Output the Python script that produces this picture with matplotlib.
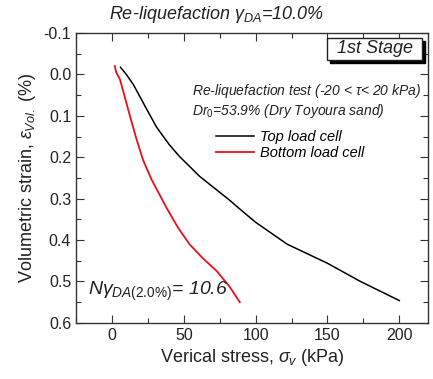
import numpy as np
import matplotlib.pyplot as plt
from matplotlib.ticker import MultipleLocator

plt.rcParams['font.family'] = ['Liberation Sans', 'DejaVu Sans']
plt.rcParams['mathtext.fontset'] = 'custom'
plt.rcParams['mathtext.it'] = 'Liberation Sans:italic'
plt.rcParams['mathtext.rm'] = 'Liberation Sans'

# Top load cell (black)
top_stress = [6, 10, 15, 22, 31, 40, 47, 61, 82, 89, 100, 122, 150, 173, 200]
top_strain = [-0.017, 0.0, 0.025, 0.07, 0.127, 0.17, 0.198, 0.246, 0.304,
              0.325, 0.357, 0.41, 0.456, 0.50, 0.546]

# Bottom load cell (red)
bot_stress = [2, 3, 5.6, 9, 12.5, 17, 21.6, 27.6, 38, 46, 54, 63, 73, 82, 89]
bot_strain = [-0.02, -0.005, 0.012, 0.055, 0.10, 0.155, 0.206, 0.254, 0.322,
              0.37, 0.41, 0.443, 0.475, 0.513, 0.55]

fig = plt.figure(figsize=(4.33, 3.79), dpi=100)
ax = fig.add_axes([0.1755, 0.148, 0.813, 0.765])

ax.plot(top_stress, top_strain, color='black', lw=1.1, label='Top load cell')
ax.plot(bot_stress, bot_strain, color='#e8101a', lw=1.3, label='Bottom load cell')

ax.set_xlim(-25, 220)
ax.set_ylim(0.6, -0.1)
ax.xaxis.set_major_locator(MultipleLocator(50))
ax.xaxis.set_minor_locator(MultipleLocator(25))
ax.yaxis.set_major_locator(MultipleLocator(0.1))
ax.yaxis.set_minor_locator(MultipleLocator(0.05))
ax.yaxis.set_major_formatter(plt.FormatStrFormatter('%.1f'))
ax.tick_params(which='both', direction='in', top=True, right=True,
               labelsize=11.5, colors='#333333', width=0.8)
ax.tick_params(which='major', length=6)
ax.tick_params(which='minor', length=3.5)
ax.tick_params(labelcolor='#222222')
for s in ax.spines.values():
    s.set_linewidth(1.0)
    s.set_color('#333333')

ax.set_xlabel(r'Verical stress, $\sigma_v$ (kPa)', fontsize=13, color='#222222',
              labelpad=3)
ax.set_ylabel(r'Volumetric strain, $\varepsilon_{Vol.}$ (%)', fontsize=13,
              color='#222222', labelpad=4)

fig.text(0.5, 0.962, r'Re-liquefaction $\gamma_{DA}$=10.0%', ha='center',
         va='center', fontsize=13, style='italic', color='#222222')

# 1st Stage box with shadow
ax.add_patch(plt.Rectangle((0.722, 0.897), 0.27, 0.076, transform=ax.transAxes,
                           facecolor='black', edgecolor='black', zorder=4,
                           clip_on=False))
ax.add_patch(plt.Rectangle((0.713, 0.907), 0.27, 0.076, transform=ax.transAxes,
                           facecolor='white', edgecolor='#222222', lw=1.0,
                           zorder=5, clip_on=False))
ax.text(0.848, 0.945, '1st Stage', transform=ax.transAxes, ha='center',
        va='center', fontsize=13, style='italic', color='#222222', zorder=6)

ax.text(0.33, 0.765,
        r'Re-liquefaction test (-20 < $\tau$< 20 kPa)' + '\n' +
        r'Dr$_0$=53.9% (Dry Toyoura sand)',
        transform=ax.transAxes, fontsize=10, style='italic', color='#222222',
        va='center', ha='left', linespacing=1.1)

ax.legend(loc='upper left', bbox_to_anchor=(0.36, 0.71), frameon=False,
          handlelength=2.6, handletextpad=0.4, labelspacing=0.1,
          prop={'style': 'italic', 'size': 10.5})

ax.text(0.035, 0.107, r'$N\gamma_{DA(2.0\%)}$= 10.6', transform=ax.transAxes,
        fontsize=14, style='italic', color='#222222', va='center')

fig.savefig('out.png', dpi=100)
